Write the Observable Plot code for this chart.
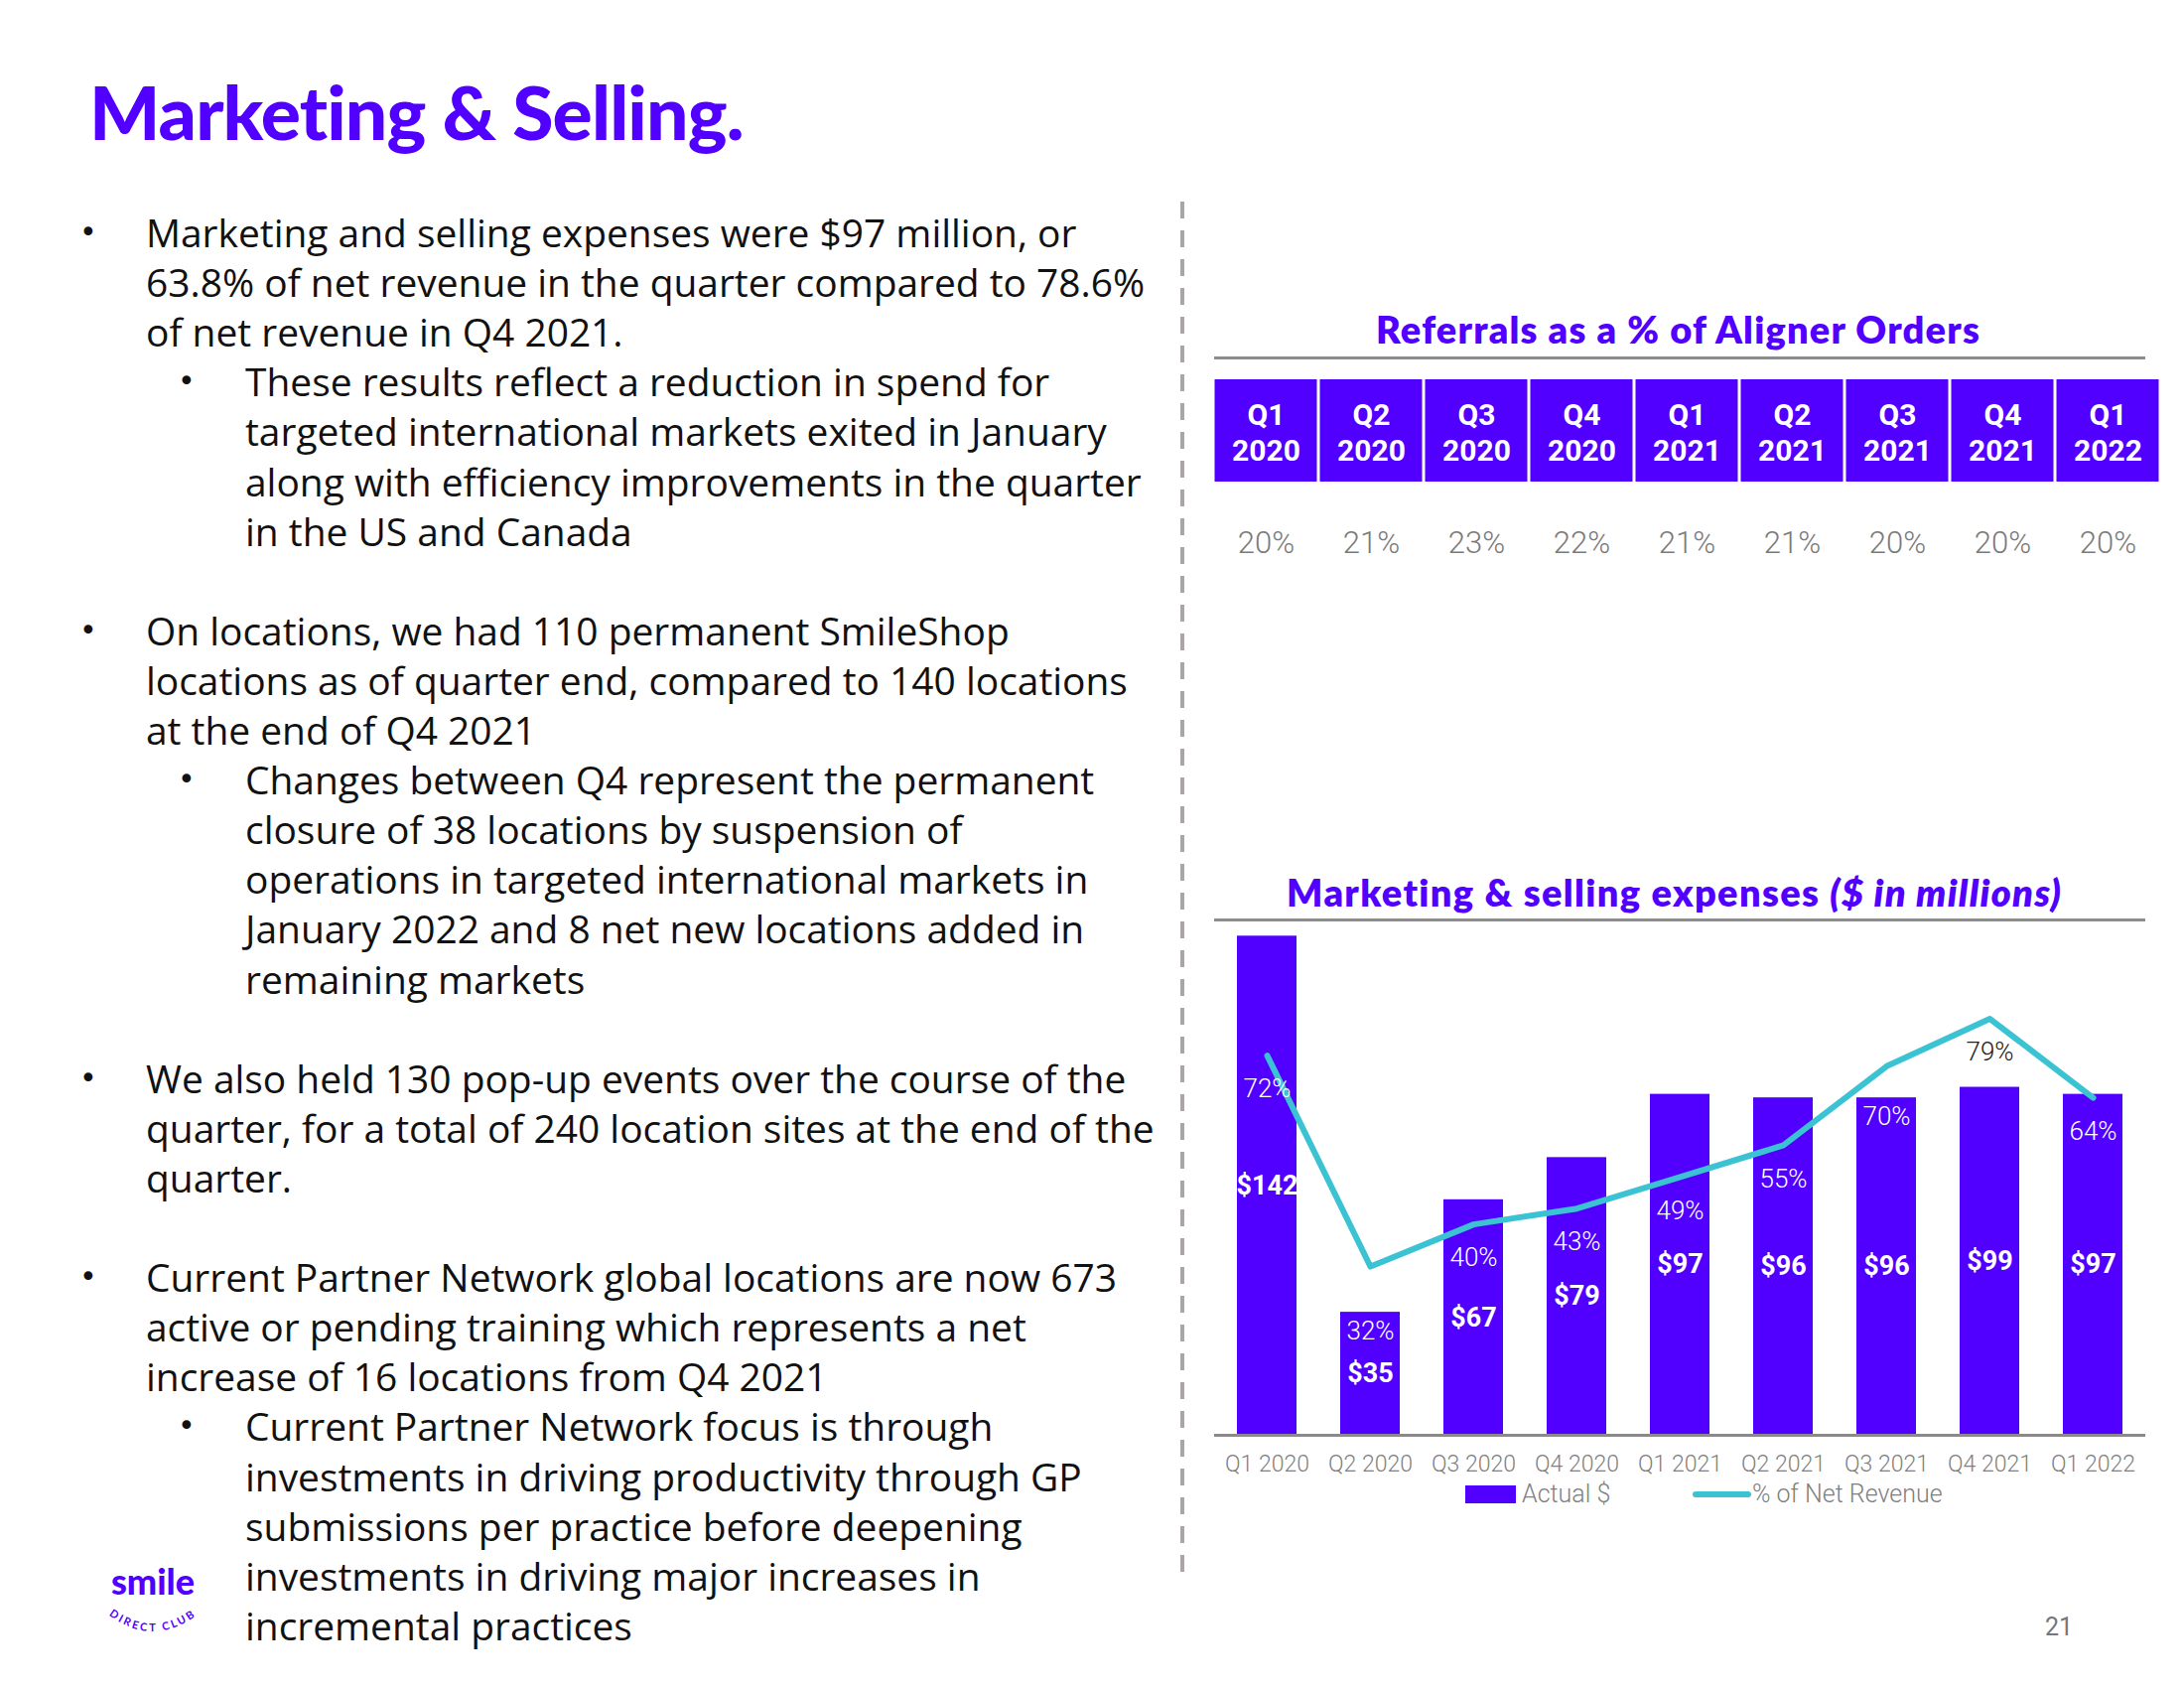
<!DOCTYPE html>
<html><head><meta charset="utf-8">
<script src="https://cdn.jsdelivr.net/npm/d3@7"></script>
<script src="https://cdn.jsdelivr.net/npm/@observablehq/plot@0.6"></script>
<style>
html,body{margin:0;padding:0;background:#fff;}
#page{position:relative;width:2200px;height:1700px;overflow:hidden;font-family:Roboto,"Open Sans",sans-serif;color:#111;}
.abs{position:absolute;}
.ln{position:absolute;white-space:nowrap;font-family:"Open Sans",Roboto,sans-serif;font-size:34px;height:50px;line-height:50px;}
.bul{position:absolute;font-family:"DejaVu Sans",sans-serif;font-size:30px;height:50px;line-height:50px;}
.ttl{font-family:Lato,sans-serif;font-weight:900;color:#5100ff;white-space:nowrap;}
</style></head>
<body><div id="page"></div>
<script>
// ---------- data ----------
const quarters = ["Q1 2020","Q2 2020","Q3 2020","Q4 2020","Q1 2021","Q2 2021","Q3 2021","Q4 2021","Q1 2022"];
const referralPct = [20,21,23,22,21,21,20,20,20];
const spendMillions = [142,35,67,79,97,96,96,99,97];
const pctNetRevenue = [72,32,40,43,49,55,70,79,64];

const bulletLines = [
  [1,"Marketing and selling expenses were $97 million, or"],
  [0,"63.8% of net revenue in the quarter compared to 78.6%"],
  [0,"of net revenue in Q4 2021."],
  [2,"These results reflect a reduction in spend for"],
  [0,"targeted international markets exited in January"],
  [0,"along with efficiency improvements in the quarter"],
  [0,"in the US and Canada"],
  null,
  [1,"On locations, we had 110 permanent SmileShop"],
  [0,"locations as of quarter end, compared to 140 locations"],
  [0,"at the end of Q4 2021"],
  [2,"Changes between Q4 represent the permanent"],
  [0,"closure of 38 locations by suspension of"],
  [0,"operations in targeted international markets in"],
  [0,"January 2022 and 8 net new locations added in"],
  [0,"remaining markets"],
  null,
  [1,"We also held 130 pop-up events over the course of the"],
  [0,"quarter, for a total of 240 location sites at the end of the"],
  [0,"quarter."],
  null,
  [1,"Current Partner Network global locations are now 673"],
  [0,"active or pending training which represents a net"],
  [0,"increase of 16 locations from Q4 2021"],
  [2,"Current Partner Network focus is through"],
  [0,"investments in driving productivity through GP"],
  [0,"submissions per practice before deepening"],
  [0,"investments in driving major increases in"],
  [0,"incremental practices"]
];

// ---------- styles ----------
const PURPLE = "#5100ff";
const TEAL = "#3cc3d3";
const GRAY = "#7f7f7f";
const FONT = "Roboto, 'Open Sans', sans-serif";

const page = document.getElementById("page");
function add(html){ page.insertAdjacentHTML("beforeend", html); return page.lastElementChild; }
function fitSpacing(el, target) {
  const w = el.getBoundingClientRect().width;
  const n = el.textContent.length;
  return (target - w) / n;
}

// slide title
const title = add(`<div class="abs ttl" style="left:90px;top:64px;font-size:75px;line-height:96px;">Marketing &amp; Selling.</div>`);
title.style.letterSpacing = fitSpacing(title, 660) + "px";

// bullet text
let level = 1;
const lineEls = [];
bulletLines.forEach((l, i) => {
  if (!l) return;
  const top = 209 + i * 50.1;
  const [b, txt] = l;
  if (b) level = b;
  const textX = level === 1 ? 147 : 247;
  if (b) add(`<div class="bul" style="left:${b===1?80:179}px;top:${top}px;">&#8226;</div>`);
  lineEls.push(add(`<div class="ln" style="left:${textX}px;top:${top}px;">${txt}</div>`));
});
// scale the body font so the widest reference line spans the same width as in the slide
const refLine = lineEls.find(e => e.textContent.startsWith("quarter, for"));
const fs = 34 * 1016 / refLine.getBoundingClientRect().width;
lineEls.forEach(e => e.style.fontSize = fs + "px");

// dashed divider
add(`<div class="abs" style="left:1189px;top:203px;width:4px;height:1390px;background:repeating-linear-gradient(to bottom,#aaa6a6 0 17px,transparent 17px 29px);"></div>`);

// chart 1 title + rule
const t1 = add(`<div class="abs ttl" style="left:1386px;top:307px;font-size:38px;line-height:48px;font-weight:800;">Referrals as a % of Aligner Orders</div>`);
t1.style.letterSpacing = fitSpacing(t1, 609) + "px";
add(`<div class="abs" style="left:1223px;top:359px;width:938px;height:3px;background:#8c8c8c;"></div>`);

// chart 1 (referral table)
const ref = quarters.map((q, i) => ({q, pct: referralPct[i]}));
const p1 = Plot.plot({
  width: 960, height: 200,
  marginTop: 0, marginBottom: 97, marginLeft: 0, marginRight: 0,
  x: {domain: quarters, padding: 0, axis: null},
  style: {background: "transparent", fontFamily: FONT},
  marks: [
    Plot.cell(ref, {x: "q", fill: PURPLE, insetLeft: 1.5, insetRight: 1.5}),
    Plot.text(ref, {x: "q", text: d => d.q.replace(" ", "\n"), frameAnchor: "middle", lineHeight: 1.2, fill: "white", fontWeight: 700, fontSize: 30}),
    Plot.text(ref, {x: "q", text: d => d.pct + "%", frameAnchor: "bottom", dy: 71, fill: "#7a7a7a", fontSize: 31, fontWeight: 300})
  ]
});
p1.style.position = "absolute"; p1.style.left = "1219px"; p1.style.top = "382px";
page.appendChild(p1);

// chart 2 (bars + line)
const ms = quarters.map((q, i) => ({q, value: spendMillions[i], pct: pctNetRevenue[i]}));
const PCT_K = 1.5; // 100% of net revenue sits at the top of the $ axis (150)
function labelY(d) {
  let y = d.pct * PCT_K - 9.6;
  if (y > d.value - 6 && y < d.value + 6) y = d.value - 5.5;
  return y;
}
const p2 = Plot.plot({
  width: 938, height: 576,
  marginTop: 0, marginBottom: 45, marginLeft: 0, marginRight: 0,
  x: {domain: quarters, paddingInner: 0.425, paddingOuter: 0.2125, axis: null},
  y: {domain: [0, 150], axis: null},
  style: {background: "transparent", fontFamily: FONT},
  marks: [
    Plot.barY(ms, {x: "q", y: "value", fill: PURPLE}),
    Plot.ruleY([0], {stroke: "#8a8a8a", strokeWidth: 3}),
    Plot.line(ms, {x: "q", y: d => d.pct * PCT_K, stroke: TEAL, strokeWidth: 6}),
    Plot.text(ms, {x: "q", y: d => d.value / 2, text: d => "$" + d.value, fill: "white", fontWeight: 700, fontSize: 27}),
    Plot.text(ms.filter(d => labelY(d) <= d.value), {x: "q", y: labelY, text: d => d.pct + "%", fill: "white", fontSize: 26, fontWeight: 300}),
    Plot.text(ms.filter(d => labelY(d) > d.value), {x: "q", y: labelY, text: d => d.pct + "%", fill: "#222", fontSize: 26, fontWeight: 300}),
    Plot.text(quarters, {x: d => d, frameAnchor: "bottom", dy: 36, fill: GRAY, fontSize: 23, fontWeight: 300})
  ]
});
p2.style.position = "absolute"; p2.style.left = "1223px"; p2.style.top = "914px";
page.appendChild(p2);

// chart 2 title + rule
const t2 = add(`<div class="abs ttl" style="left:1296px;top:874px;font-size:38px;line-height:48px;font-weight:800;">Marketing &amp; selling expenses <i>($ in millions)</i></div>`);
t2.style.letterSpacing = fitSpacing(t2, 782) + "px";
add(`<div class="abs" style="left:1223px;top:925px;width:938px;height:3px;background:#8c8c8c;"></div>`);

// legend
add(`<div class="abs" style="left:1476px;top:1496px;width:51px;height:18px;background:${PURPLE};"></div>`);
add(`<div class="abs" style="left:1533px;top:1489px;font-size:25px;line-height:32px;font-weight:300;color:${GRAY};white-space:nowrap;">Actual $</div>`);
add(`<div class="abs" style="left:1705px;top:1502px;width:59px;height:6px;border-radius:3px;background:${TEAL};"></div>`);
add(`<div class="abs" style="left:1765px;top:1489px;font-size:25px;line-height:32px;font-weight:300;color:${GRAY};white-space:nowrap;">% of Net Revenue</div>`);

// page number
add(`<div class="abs" style="left:2054px;top:1623px;width:40px;text-align:center;font-size:25px;line-height:32px;color:#777;">21</div>`);

// logo
add(`<svg class="abs" style="left:92px;top:1562px;" width="124" height="110" viewBox="0 0 124 110">
  <defs><path id="arc" d="M12,60 Q62,102 112,60"/></defs>
  <text x="62" y="44" text-anchor="middle" font-family="Lato, sans-serif" font-weight="900" font-size="36" fill="${PURPLE}">smile</text>
  <text font-family="Lato, sans-serif" font-weight="700" font-size="11" letter-spacing="2.5" fill="${PURPLE}"><textPath href="#arc" startOffset="50%" text-anchor="middle">DIRECT CLUB</textPath></text>
</svg>`);
</script>
</body></html>
